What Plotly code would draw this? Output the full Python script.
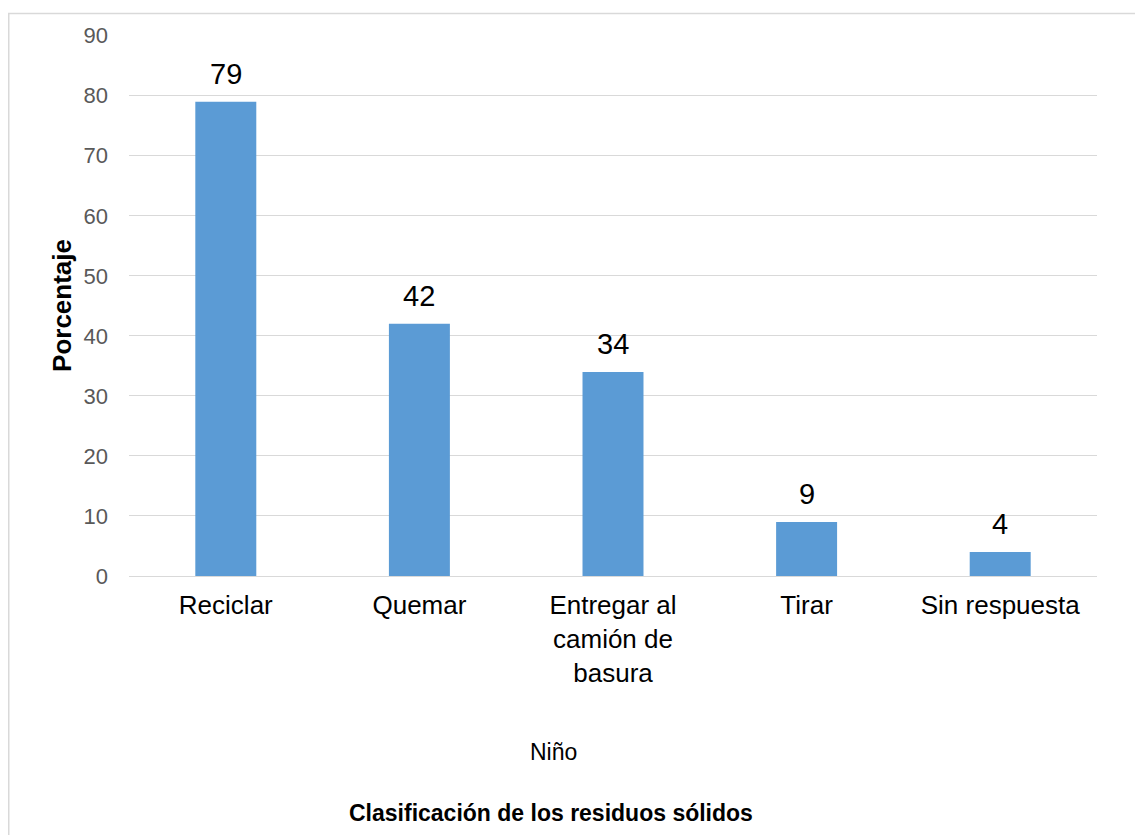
import plotly.graph_objects as go

categories = ["Reciclar", "Quemar", "Entregar al camión de basura", "Tirar", "Sin respuesta"]
tick_labels = ["Reciclar", "Quemar", "Entregar al<br>camión de<br>basura", "Tirar", "Sin respuesta"]
values = [79, 42, 34, 9, 4]
y_ticks = [0, 10, 20, 30, 40, 50, 60, 70, 80, 90]

FONT = "Liberation Sans, Arial, sans-serif"
OFF = 8  # page body margin
W, H = 1143 - OFF, 835 - OFF
L, R, T, B = 129 - OFF, 1143 - 1097, 35 - OFF, 835 - 576
pw, ph = W - L - R, H - T - B

def px_x(p):
    return (p - OFF - L) / pw

def px_y(p):
    return (H - B - (p - OFF)) / ph

fig = go.Figure()
fig.add_trace(go.Bar(
    x=categories, y=values,
    marker=dict(color="#5B9BD5", line=dict(width=0)),
    hoverinfo="x+y",
))

for c, v in zip(categories, values):
    fig.add_annotation(x=c, y=v, xref="x", yref="y", text=str(v),
                       showarrow=False, yanchor="bottom", yshift=10,
                       font=dict(family=FONT, size=29, color="#000000"))

fig.add_annotation(x=px_x(553), y=px_y(752), xref="paper", yref="paper",
                   text="Niño", showarrow=False, xanchor="center", yanchor="middle",
                   font=dict(family=FONT, size=23, color="#000000"))
fig.add_annotation(x=px_x(551), y=px_y(813), xref="paper", yref="paper",
                   text="<b>Clasificación de los residuos sólidos</b>", showarrow=False,
                   xanchor="center", yanchor="middle",
                   font=dict(family=FONT, size=23, color="#000000"))

fig.add_shape(type="rect", xref="paper", yref="paper",
              x0=px_x(OFF + 0.75), x1=px_x(1170), y0=px_y(870), y1=px_y(13.5),
              line=dict(color="#D9D9D9", width=1.5), fillcolor="rgba(0,0,0,0)",
              layer="below")

fig.update_layout(
    width=W, height=H,
    margin=dict(l=L, r=R, t=T, b=B, autoexpand=False),
    paper_bgcolor="#FFFFFF", plot_bgcolor="#FFFFFF",
    bargap=0.685,
    showlegend=False,
    font=dict(family=FONT, color="#000000"),
    xaxis=dict(
        tickmode="array", tickvals=categories, ticktext=tick_labels,
        tickfont=dict(family=FONT, size=26, color="#000000"),
        showgrid=False, showline=False, zeroline=False, ticks="",
        tickangle=0, automargin=False, ticklabelstandoff=11,
    ),
    yaxis=dict(
        range=[0, 90.12], tickmode="array", tickvals=y_ticks,
        tickfont=dict(family=FONT, size=22, color="#595959"),
        showgrid=True, gridcolor="#D9D9D9", gridwidth=1.3,
        zeroline=True, zerolinecolor="#D9D9D9", zerolinewidth=1.3,
        showline=False, ticks="", ticklabelstandoff=20,
        title=dict(text="<b>Porcentaje</b>", standoff=4,
                   font=dict(family=FONT, size=26, color="#000000")),
        automargin=False,
    ),
)

fig.write_html("out.html")
